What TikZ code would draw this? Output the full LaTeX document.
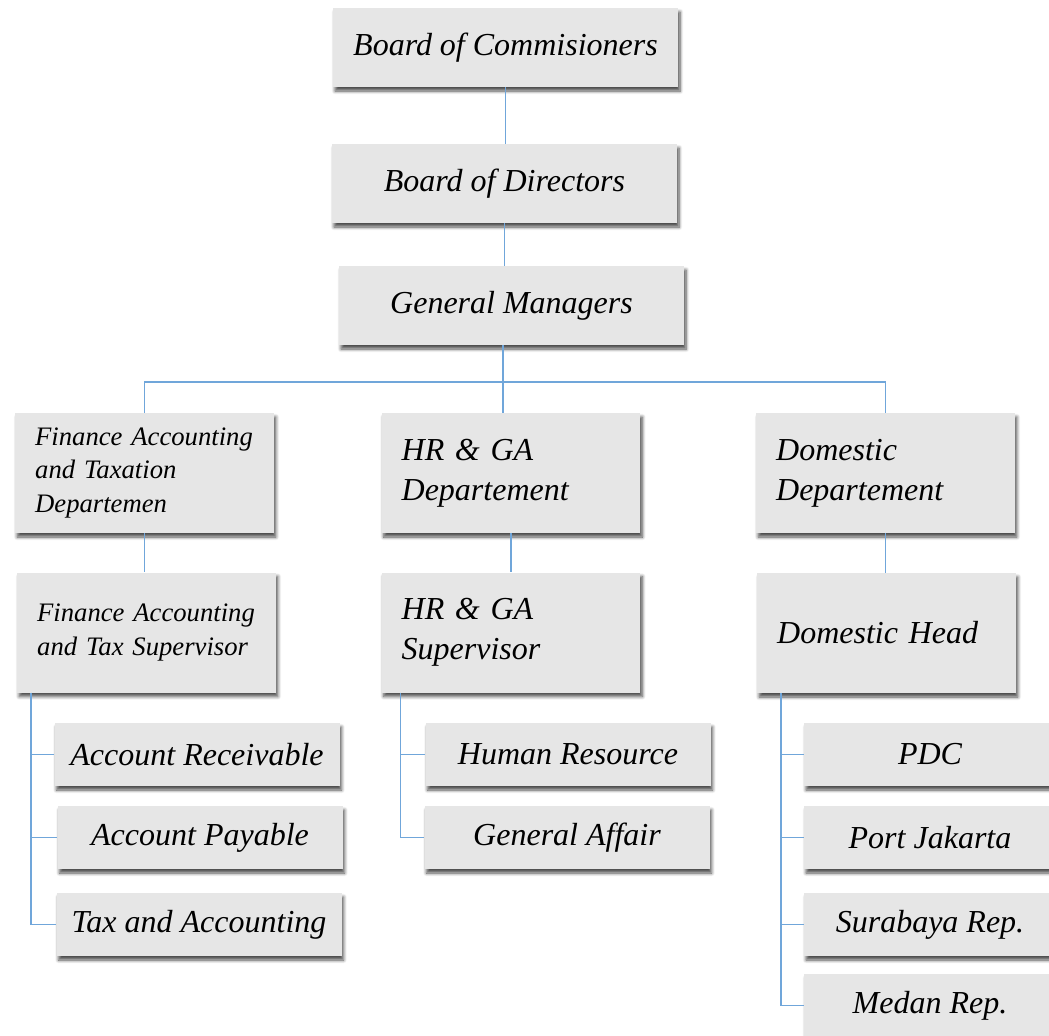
\documentclass[tikz,border=0pt]{standalone}
\usepackage{fontspec}
\setmainfont{Liberation Serif}[ItalicFont={Liberation Serif Italic}]
\usepackage{tikz}
\usepackage{xcolor}
\usetikzlibrary{positioning, shadows, shadows.blur}
\definecolor{boxgray}{RGB}{230,230,230}
\definecolor{linkblue}{RGB}{112,166,218}

\begin{document}
\begin{tikzpicture}[x=0.75pt,y=-0.75pt,
    box/.style={fill=boxgray, inner sep=0pt,
      blur shadow={shadow xshift=1.5pt, shadow yshift=-3pt, shadow blur radius=2.5pt, shadow blur steps=6, shadow opacity=70},
      font=\itshape\fontsize{24}{30}\selectfont},
    topbox/.style={box, minimum width=258.75pt, minimum height=59.25pt},
    deptbox/.style={box, text width=164pt, inner xsep=15pt, minimum height=90pt, align=left},
    smalltxt/.style={font=\itshape\fontsize{20}{25}\selectfont},
    unitbox/.style={box, minimum width=213.75pt, minimum height=47.25pt},
    conn/.style={draw=linkblue, line width=0.9pt}]

    \useasboundingbox (0,0) rectangle (1049,1035);

    %Top levels
    \node[topbox] (boc) at (505.5,47.5) {Board of Commisioners};
    \node[topbox] (bod) at (504.5,183.5) {Board of Directors};
    \node[topbox] (gm) at (511.5,305.5) {General Managers};

    %Departments
    \node[deptbox,smalltxt] (fin) at (144.5,473) {Finance Accounting\\and Taxation\\Departemen};
    \node[deptbox] (hrga) at (511,473) {HR \& GA\\Departement};
    \node[deptbox] (dom) at (885.5,473) {Domestic\\Departement};

    %Supervisors
    \node[deptbox,smalltxt] (finsup) at (146.5,632.5) {Finance Accounting\\and Tax Supervisor};
    \node[deptbox] (hrsup) at (511,632.5) {HR \& GA\\Supervisor};
    \node[deptbox] (domhead) at (886.5,633) {Domestic Head};

    %Units
    \node[unitbox] (ar) at (197,754.5) {Account Receivable};
    \node[unitbox] (ap) at (200,837.5) {Account Payable};
    \node[unitbox] (tax) at (199,924.5) {Tax and Accounting};
    \node[unitbox] (hr) at (568,754.5) {Human Resource};
    \node[unitbox] (ga) at (567,837.5) {General Affair};
    \node[unitbox, minimum width=189pt] (pdc) at (930,754.5) {PDC};
    \node[unitbox, minimum width=189pt] (port) at (930,837.5) {Port Jakarta};
    \node[unitbox, minimum width=189pt] (sby) at (930,924.5) {Surabaya Rep.};
    \node[unitbox, minimum width=189pt] (mdn) at (930,1005.5) {Medan Rep.};

    %Connectors
    \draw[conn] (boc.south) -- (boc.south |- bod.north);
    \draw[conn] (bod.south) -- (bod.south |- gm.north);
    \coordinate (bus) at (503,382);
    \draw[conn] (gm.south -| bus) -- (bus);
    \draw[conn] (fin.north) |- (bus) -| (dom.north);
    \draw[conn] (bus) -- (bus |- hrga.north);
    \draw[conn] (fin.south) -- (fin.south |- finsup.north);
    \draw[conn] (hrga.south) -- (hrga.south |- hrsup.north);
    \draw[conn] (dom.south) -- (dom.south |- domhead.north);

    \coordinate (finbus) at ([xshift=10.5pt]finsup.south west);
    \coordinate (hrbus) at ([xshift=14.25pt]hrsup.south west);
    \coordinate (dombus) at ([xshift=18pt]domhead.south west);
    \foreach \u in {ar,ap,tax}
      \draw[conn] (finbus) |- (\u.west);
    \foreach \u in {hr,ga}
      \draw[conn] (hrbus) |- (\u.west);
    \foreach \u in {pdc,port,sby,mdn}
      \draw[conn] (dombus) |- (\u.west);
\end{tikzpicture}
\end{document}
